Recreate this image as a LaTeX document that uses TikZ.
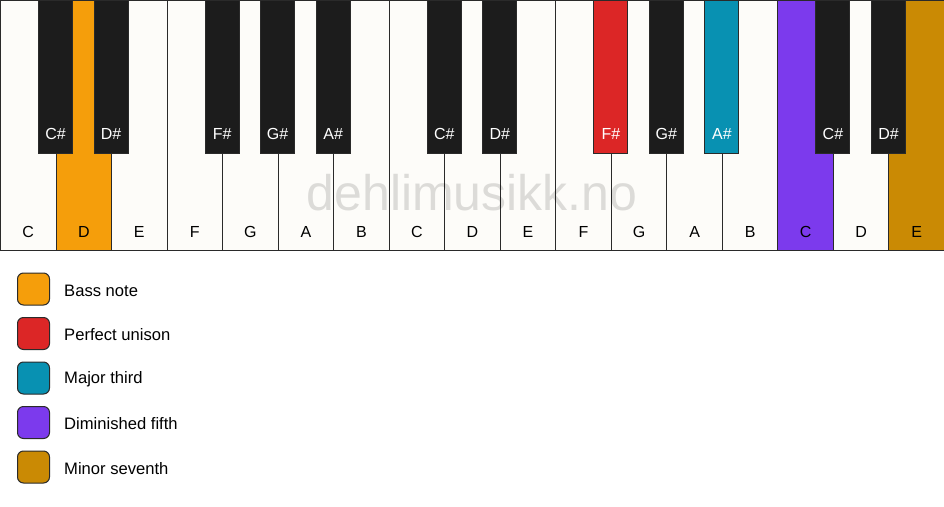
\documentclass[tikz,border=0pt]{standalone}
\usepackage{fontspec}
\setmainfont{Liberation Sans}
\usetikzlibrary{positioning}
\def\kw{55.53}
\def\kh{250pt}
\def\bw{34pt}
\def\bh{153pt}
\definecolor{ivory}{HTML}{FDFCF9}
\definecolor{keyblack}{HTML}{1C1C1C}
\definecolor{keyline}{HTML}{2A2A2A}
\definecolor{bass}{HTML}{F59E0B}
\definecolor{unison}{HTML}{DC2626}
\definecolor{third}{HTML}{0891B2}
\definecolor{fifth}{HTML}{7C3AED}
\definecolor{seventh}{HTML}{CA8A04}
\tikzstyle{whitekey}=[draw=keyline,line width=1pt,minimum width=\kw pt,minimum height=\kh,inner sep=0pt,anchor=north west]
\tikzstyle{blackkey}=[draw=keyline,line width=1pt,minimum width=\bw,minimum height=\bh,inner sep=0pt,anchor=north]
\tikzstyle{keylabel}=[font=\fontsize{16}{19}\selectfont,inner sep=0pt,anchor=base]
\tikzstyle{legendbox}=[draw=keyline,line width=1pt,rounded corners=6pt,minimum size=32pt,inner sep=0pt]
\newcommand{\newLegend}[4]{\node[legendbox,fill=#3](#1) at (33.5,#4){};
  \node[keylabel,anchor=west,font=\fontsize{16.6}{19}\selectfont,right=14pt of #1,yshift=-1.5pt](#1t){#2};}
\begin{document}
\begin{tikzpicture}[x=1pt,y=1pt]
  \useasboundingbox (0,0) rectangle (944,-506);
  % white keys
  \foreach \n/\f [count=\i from 0] in {C/ivory,D/bass,E/ivory,F/ivory,G/ivory,A/ivory,B/ivory,
    C/ivory,D/ivory,E/ivory,F/ivory,G/ivory,A/ivory,B/ivory,C/fifth,D/ivory,E/seventh}{
    \node[whitekey,fill=\f](w\i) at (\i*\kw,0){};
    \node[keylabel,text=black] at ([yshift=14pt]w\i.south){\n};
  }
  % black keys
  \foreach \n/\f/\p [count=\i] in {C/keyblack/1,D/keyblack/2,F/keyblack/4,G/keyblack/5,A/keyblack/6,
    C/keyblack/8,D/keyblack/9,F/unison/11,G/keyblack/12,A/third/13,C/keyblack/15,D/keyblack/16}{
    \node[blackkey,fill=\f](b\i) at (\p*\kw,0){};
    \node[keylabel,text=white] at ([yshift=15pt]b\i.south){\n\#};
  }
  % watermark
  \node[text=black,opacity=0.13,anchor=base,inner sep=0pt,font=\fontsize{50}{56}\selectfont](mark) at (472,-210){dehlimusikk.no};
  % legend
  \newLegend{bassnote}{Bass note}{bass}{-289}
  \newLegend{unison}{Perfect unison}{unison}{-333.5}
  \newLegend{third}{Major third}{third}{-378}
  \newLegend{fifth}{Diminished fifth}{fifth}{-422.5}
  \newLegend{seventh}{Minor seventh}{seventh}{-467}
\end{tikzpicture}
\end{document}
